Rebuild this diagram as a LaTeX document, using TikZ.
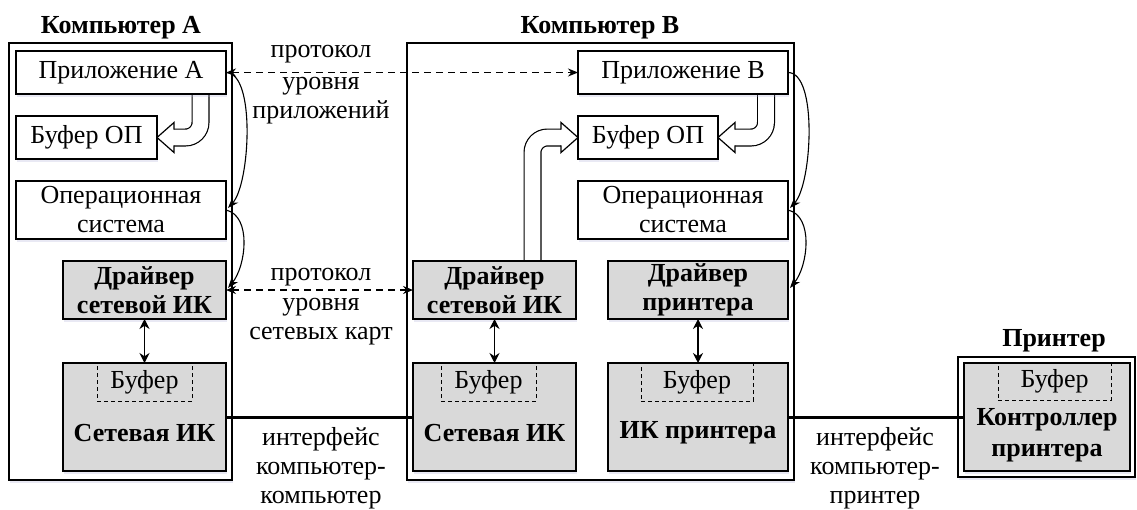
\documentclass[tikz,border=0pt]{standalone}
\usepackage{fontspec}
\setmainfont{Liberation Serif}
\usetikzlibrary{arrows.meta,calc,shadows,backgrounds}

% hollow (outlined) bent arrow: #1 start, #2 tip, #3 signed head length
\newcommand\harrow[3]{%
  \draw[shaftout] (#1) |- ($(#2)+(#3,0)$);
  \draw[shaftin] (#1) |- ($(#2)+(#3*0.8,0)$);
  \fill[white] ($(#2)+(#3,-15)$) -- (#2) -- ($(#2)+(#3,15)$) -- cycle;
  \draw[line width=1.2pt, line join=miter]
    ($(#2)+(#3,-7.8)$) -- ($(#2)+(#3,-15)$) -- (#2) -- ($(#2)+(#3,15)$) -- ($(#2)+(#3,7.8)$);
}

\begin{document}
\begin{tikzpicture}[x=1pt,y=-1pt,
  every node/.style={font=\fontsize{26}{29}\selectfont, inner sep=0pt, outer sep=0pt, align=center},
  sz/.style 2 args={minimum width=#1pt, minimum height=#2pt},
  soft/.style={drop shadow={shadow xshift=0.5pt, shadow yshift=-2.5pt, fill=blue!35!gray!50, opacity=0.25}},
  frame/.style={draw, line width=1.4pt, fill=white, soft},
  box/.style={draw, line width=1.2pt, fill=white, soft},
  gbox/.style={box, fill=black!15, font=\fontsize{26}{29}\selectfont\bfseries},
  bufbox/.style={draw, dash pattern=on 4pt off 3pt, line width=1pt},
  title/.style={font=\fontsize{26}{29}\selectfont\bfseries},
  shaftout/.style={draw=black, line width=18pt, rounded corners=15pt},
  shaftin/.style={draw=white, line width=15.6pt, rounded corners=15pt},
  dasharrow/.style={line width=1.2pt, dash pattern=on 7pt off 5pt, {Stealth[length=10pt,width=8pt]}-{Stealth[length=10pt,width=8pt]}},
  curvearrow/.style={line width=1.1pt, -{Stealth[length=11pt,width=8pt]}},
  vlink/.style={line width=1.3pt, {Stealth[length=10pt,width=10pt]}-{Stealth[length=10pt,width=10pt]}},
  wire/.style={line width=3pt}
]
\useasboundingbox (0,0) rectangle (1137,509);

% ---------- computer A ----------
\node[title] (tA) at (121,28) {Компьютер А};
\node[box, sz={210}{43}] (appA) at (121,72.5) {Приложение А};
\node[box, sz={141}{43}] (bufA) at (86.5,137.5) {Буфер ОП};
\node[box, sz={210}{58}] (osA) at (121,210) {Операционная\\система};
\node[gbox, sz={163}{58}] (drvA) at (144.5,290) {Драйвер\\сетевой ИК};
\node[gbox, sz={163}{108}] (nicA) at (144.5,417) {};
\node[bufbox, sz={95}{38}] (nbufA) at (144.5,382) {Буфер};
\node[title] (nicAt) at (144.5,433) {Сетевая ИК};

% ---------- computer B ----------
\node[title] (tB) at (600,28) {Компьютер В};
\node[box, sz={210}{43}] (appB) at (683,72.5) {Приложение В};
\node[box, sz={140}{43}] (bufB) at (648,137.5) {Буфер ОП};
\node[box, sz={210}{58}] (osB) at (683,210) {Операционная\\система};
\node[gbox, sz={163}{58}] (drvB) at (494.5,290) {Драйвер\\сетевой ИК};
\node[gbox, sz={180}{58}] (pdrv) at (698,290) {Драйвер\\принтера};
\node[gbox, sz={163}{108}] (nicB) at (494.5,417) {};
\node[bufbox, sz={95}{38}] (nbufB) at (488.5,382) {Буфер};
\node[title] (nicBt) at (494.5,433) {Сетевая ИК};
\node[gbox, sz={180}{108}] (pnic) at (698,417) {};
\node[bufbox, sz={112}{38}] (pbuf) at (697,382) {Буфер};
\node[title] (pnict) at (698,433) {ИК принтера};

% ---------- printer ----------
\node[title] (tP) at (1054,341) {Принтер};
\node[gbox, sz={166}{108}] (ctl) at (1047,417) {};
\node[bufbox, sz={113}{37}] (cbuf) at (1054.5,381.5) {Буфер};
\node[title, font=\fontsize{26}{31}\selectfont\bfseries] (ctlt) at (1047,435) {Контроллер\\принтера};

% ---------- page, enclosures and hollow arrows ----------
\begin{pgfonlayer}{background}
  \fill[white] (0,0) rectangle (1137,509);
  \node[frame, sz={223}{437}] (compA) at (120.5,261.5) {};
  \node[frame, sz={387}{437}] (compB) at (600.5,261.5) {};
  \node[frame, line width=1.2pt, sz={177}{120}] (prn) at (1046.5,417) {};
  \harrow{$(appA.south east)+(-25.5,0)$}{bufA.east}{17}
  \harrow{$(appB.south east)+(-22,0)$}{bufB.east}{17}
  \harrow{$(drvB.north)+(38,0)$}{bufB.west}{-17}
\end{pgfonlayer}

% ---------- protocol labels ----------
\node (p1a) at (321,54) {протокол};
\node (p1b) at (321,101) {уровня\\приложений};
\node (p2a) at (321,277) {протокол};
\node (p2b) at (321,322) {уровня\\сетевых карт};
\node (i1) at (321,468) {интерфейс\\компьютер-\\компьютер};
\node (i2) at (875,468) {интерфейс\\компьютер-\\принтер};

% ---------- connectors ----------
\draw[dasharrow] (appA.east) -- (appB.west);
\draw[dasharrow] (drvA.east) -- (drvB.west);
\draw[wire] (nicA.east) -- (nicB.west);
\draw[wire] (pnic.east) -- (ctl.west);

\draw[vlink] (drvA.south) -- (nicA.north);
\draw[vlink] (drvB.south) -- (nicB.north);
\draw[vlink] (pdrv.south) -- (pnic.north);

\draw[curvearrow] (appA.east) .. controls ($(appA.east)+(30,0)$) and ($(osA.east)+(24,-26)$) .. ($(osA.east)+(2,-2)$);
\draw[curvearrow] (osA.east) .. controls ($(osA.east)+(26,6)$) and ($(drvA.east)+(20,-24)$) .. ($(drvA.east)+(2,-2)$);
\draw[curvearrow] (appB.east) .. controls ($(appB.east)+(30,0)$) and ($(osB.east)+(24,-26)$) .. ($(osB.east)+(2,-2)$);
\draw[curvearrow] (osB.east) .. controls ($(osB.east)+(26,6)$) and ($(pdrv.east)+(20,-24)$) .. ($(pdrv.east)+(2,-2)$);
\end{tikzpicture}
\end{document}
